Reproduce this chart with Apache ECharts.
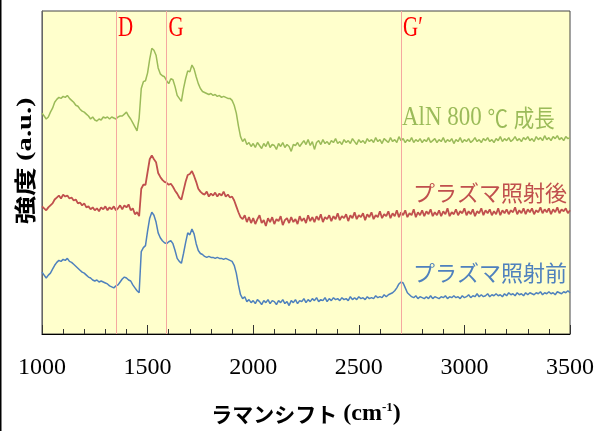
<!DOCTYPE html>
<html><head><meta charset="utf-8">
<script src="https://cdn.jsdelivr.net/npm/echarts@6/dist/echarts.min.js"></script>
<style>html,body{margin:0;padding:0;background:#fff}#c{width:603px;height:431px}</style>
</head><body><div id="c"></div>
<script>
const seriesNames = ['AlN 800 ℃ 成長', 'プラズマ照射後', 'プラズマ照射前'];
const wavenumberStart = 1000;
const wavenumberStep = 10;
const xTickLabels = ['1000', '1500', '2000', '2500', '3000', '3500'];
const peakPositions = [1350, 1590, 2700];
const peakNames = ['D', 'G', 'G′'];

const grown = [
225,222,219,221,226,230,236,239,241,240,
242,241,243,240,238,236,233,232,229,227,
226,224,222,219,221,218,217,219,218,221,
220,221,219,221,220,219,221,222,222,224,
226,222,219,215,211,207,220,250,257,258,
266,280,291,289,284,271,265,263,262,258,
255,260,259,252,243,240,237,250,260,268,
267,274,270,262,255,250,247,246,245,244,
245,243,244,242,243,241,242,241,240,240,
238,233,225,212,201,196,199,193,195,191,
194,190,195,192,189,194,191,196,190,193,
192,188,194,191,195,190,193,191,186,193,
192,195,191,194,197,193,198,192,196,188,
195,197,193,198,194,196,193,197,195,199,
194,196,193,198,195,197,194,199,196,193,
198,195,197,194,199,196,198,195,200,196,
198,194,199,197,195,200,196,198,195,201,
197,199,195,198,196,200,195,198,196,199,
195,198,196,200,195,197,199,195,198,196,
200,195,198,196,199,194,198,196,200,195,
198,196,199,195,197,200,196,198,195,199,
197,200,196,198,195,199,197,201,196,199,
197,200,196,198,201,197,199,196,200,198,
201,197,199,196,201,198,200,197,202,198,
200,197,201,199,202,198,200,197,201,199,
200
];
const afterPlasma = [
130,128,126,129,131,133,137,139,141,138,
142,140,141,138,139,136,137,133,134,131,
133,129,130,127,129,126,128,125,129,127,
130,126,129,127,130,126,128,131,127,131,
129,132,126,128,122,124,120,148,152,152,
165,178,182,178,175,164,160,157,155,154,
152,153,150,146,143,139,137,146,155,162,
163,166,161,155,148,145,143,142,145,140,
143,141,144,140,143,141,145,140,142,139,
140,136,130,124,119,117,121,114,119,113,
118,112,117,121,113,116,110,118,114,119,
112,117,115,120,111,116,118,113,119,114,
117,112,120,115,118,113,121,115,119,114,
120,116,122,114,119,117,121,115,120,117,
123,116,120,118,122,115,121,118,124,117,
121,119,123,116,122,119,124,117,121,119,
125,118,122,120,125,118,123,120,126,119,
124,121,126,119,123,121,127,119,124,121,
126,120,125,122,127,120,124,121,126,120,
125,122,128,120,124,122,127,121,125,123,
128,121,125,122,127,120,125,123,128,121,
126,123,127,121,125,122,128,121,126,123,
127,122,126,124,129,122,126,123,128,122,
127,124,128,122,126,124,129,123,127,124,
128,122,127,124,129,123,127,125,128,123,
126
];
const beforePlasma = [
63,60,57,60,62,66,70,73,75,74,
76,75,77,74,73,71,69,67,65,63,
62,60,58,57,55,54,55,53,54,53,
52,51,49,48,47,49,50,53,56,58,
57,55,54,50,47,44,42,84,88,90,
105,118,124,121,114,103,98,95,93,92,
94,95,92,85,77,74,72,82,93,103,
101,107,102,92,85,82,81,79,78,79,
78,78,77,78,77,77,76,77,76,75,
74,70,62,50,40,36,38,33,35,32,
34,31,35,33,30,34,32,35,31,34,
33,30,34,32,35,31,33,29,34,32,
35,31,34,33,36,32,35,33,36,34,
37,33,35,34,37,33,36,34,37,35,
36,34,37,35,36,34,38,35,37,35,
38,36,37,35,38,36,37,36,39,37,
38,37,40,38,40,41,42,44,47,51,
53,52,47,42,40,38,37,39,36,38,
37,36,38,36,39,36,38,37,36,38,
37,39,36,38,37,39,37,38,36,39,
37,38,40,37,39,38,41,38,40,38,
39,41,38,40,39,41,39,40,38,41,
39,42,40,41,39,42,40,41,39,42,
40,42,41,40,42,41,43,40,42,41,
43,41,42,40,43,42,41,43,42,44,
42
];

function toPairs(arr) { return arr.map((v, i) => [wavenumberStart + i * wavenumberStep, v]); }

const colors = ['#9bbb59', '#c0504d', '#4f81bd'];
const chart = echarts.init(document.getElementById('c'), null, { renderer: 'canvas' });

const option = {
  animation: false,
  grid: { left: 42, right: 33, top: 11, bottom: 91, show: true, backgroundColor: '#ffffcc', borderColor: '#444', borderWidth: 1 },
  xAxis: {
    type: 'value', min: 1000, max: 3500, interval: 500,
    axisLine: { show: true, onZero: false, lineStyle: { color: '#000', width: 1 } },
    axisTick: { show: true, inside: true, length: 9, lineStyle: { color: '#333' } },
    minorTick: { show: true, splitNumber: 5, length: 5, lineStyle: { color: '#333' } },
    splitLine: { show: false },
    axisLabel: { fontFamily: 'Liberation Serif', fontSize: 24, color: '#000', margin: 22,
      formatter: v => xTickLabels[xTickLabels.indexOf(String(v))] || String(v) },
    name: '{a|ラマンシフト}{b| (cm}{c|-1}{b|)}',
    nameLocation: 'middle', nameGap: 67,
    nameTextStyle: {
      rich: {
        a: { fontFamily: 'Noto Sans CJK JP', fontWeight: 'bold', fontSize: 21, color: '#000', lineHeight: 26 },
        b: { fontFamily: 'Liberation Serif', fontWeight: 'bold', fontSize: 24, color: '#000', lineHeight: 26 },
        c: { fontFamily: 'Liberation Serif', fontWeight: 'bold', fontSize: 13, color: '#000', lineHeight: 26, verticalAlign: 'top' }
      }
    }
  },
  yAxis: {
    type: 'value', min: 0, max: 329,
    axisLine: { show: true, lineStyle: { color: '#666' } },
    axisTick: { show: false }, axisLabel: { show: false }, splitLine: { show: false }
  },
  series: [
    { name: seriesNames[0], type: 'line', data: toPairs(grown), showSymbol: false, symbol: 'none', sampling: 'none',
      lineStyle: { color: colors[0], width: 1.5 }, itemStyle: { color: colors[0] }, z: 3,
      markLine: { silent: true, symbol: ['none', 'none'], label: { show: false },
        lineStyle: { color: '#f5a8a0', width: 1, type: 'solid' },
        data: peakPositions.map(v => ({ xAxis: v })) } },
    { name: seriesNames[1], type: 'line', data: toPairs(afterPlasma), showSymbol: false, symbol: 'none', sampling: 'none',
      lineStyle: { color: colors[1], width: 1.8 }, itemStyle: { color: colors[1] }, z: 3 },
    { name: seriesNames[2], type: 'line', data: toPairs(beforePlasma), showSymbol: false, symbol: 'none', sampling: 'none',
      lineStyle: { color: colors[2], width: 1.5 }, itemStyle: { color: colors[2] }, z: 3 }
  ]
};
chart.setOption(option);

const graphics = [
  { type: 'rect', shape: { x: 0, y: 0, width: 1.5, height: 431 }, style: { fill: '#000' }, silent: true },
  { type: 'text', x: 25, y: 161, rotation: Math.PI / 2, scaleX: 1.3, silent: true,
    style: { text: '{a|強度 }{b|(a.u.)}', align: 'center', verticalAlign: 'middle',
      rich: {
        a: { fontFamily: 'Noto Sans CJK JP', fontWeight: 'bold', fontSize: 22, fill: '#000' },
        b: { fontFamily: 'Liberation Serif', fontWeight: 'bold', fontSize: 22, fill: '#000' }
      } } },
  { type: 'text', x: 402, y: 118.5, scaleY: 1.15, silent: true,
    style: { text: '{s|AlN 800 }{j|℃}{s| }{j|成長}', align: 'left', verticalAlign: 'middle',
      rich: {
        s: { fontFamily: 'Liberation Serif', fontSize: 23, fill: colors[0] },
        j: { fontFamily: 'Noto Sans CJK JP', fontSize: 20.5, fill: colors[0] }
      } } },
  { type: 'text', x: 413, y: 192.5, silent: true,
    style: { text: seriesNames[1], font: '22px "Noto Sans CJK JP"', fill: colors[1], align: 'left', verticalAlign: 'middle' } },
  { type: 'text', x: 413, y: 273, silent: true,
    style: { text: seriesNames[2], font: '22px "Noto Sans CJK JP"', fill: colors[2], align: 'left', verticalAlign: 'middle' } }
];
peakPositions.forEach((v, i) => {
  const px = chart.convertToPixel({ xAxisIndex: 0 }, v);
  graphics.push({ type: 'text', x: px + 2, y: 28, scaleY: 1.45, silent: true,
    style: { text: peakNames[i], font: '21px "Liberation Serif"', fill: '#ff0000', align: 'left', verticalAlign: 'middle' } });
});
chart.setOption({ graphic: graphics });
</script>
</body></html>
